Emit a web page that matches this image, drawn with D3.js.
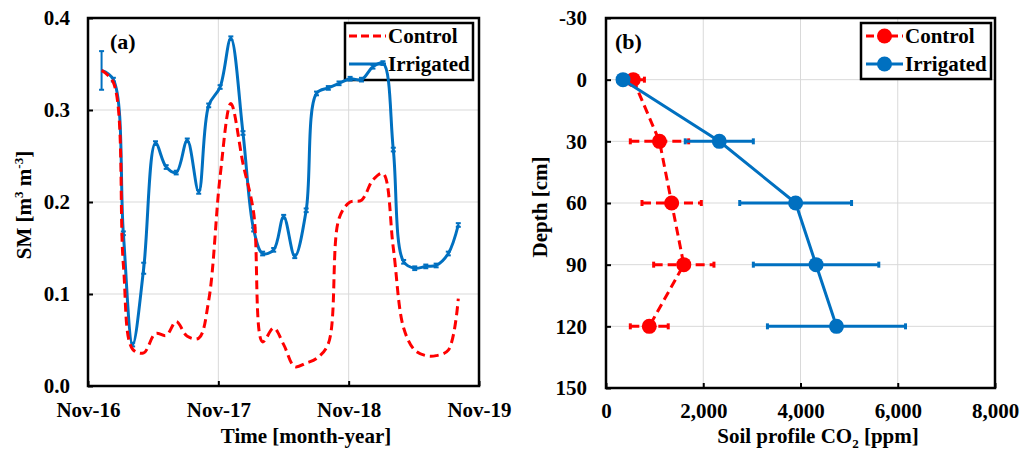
<!DOCTYPE html>
<html lang="en">
<head>
  <meta charset="UTF-8">
  <title>Soil moisture and soil profile CO2</title>
  <script src="https://cdn.jsdelivr.net/npm/d3@7.8.5/dist/d3.min.js"></script>
  <style>
    html, body { margin: 0; padding: 0; background: #fff; }
    svg { display: block; font-family: "Liberation Serif", "Times New Roman", serif; font-weight: bold; }
    svg text { font-family: "Liberation Serif", "Times New Roman", serif; font-weight: bold; }
  </style>
</head>
<body>
  <svg id="chart" width="1020" height="451"></svg>
  <script>
    // ---- panel (a): soil moisture time series ----
    const smDates = [
      "2016-12-09", "2017-01-11", "2017-02-08", "2017-03-06", "2017-04-06", "2017-05-09",
      "2017-06-08", "2017-07-06", "2017-08-06", "2017-09-07", "2017-10-05", "2017-11-06",
      "2017-12-06", "2018-01-09", "2018-02-08", "2018-03-05", "2018-04-05", "2018-05-03",
      "2018-06-03", "2018-07-05", "2018-08-03", "2018-09-05", "2018-10-05", "2018-11-05",
      "2018-12-07", "2019-01-08", "2019-02-05", "2019-03-06", "2019-04-04", "2019-05-05",
      "2019-06-05", "2019-07-04", "2019-08-07", "2019-09-04"
    ];
    const smControl = [
      0.343, 0.330, 0.132, 0.040, 0.036, 0.057, 0.055, 0.070, 0.054, 0.052, 0.093, 0.228,
      0.307, 0.242, 0.188, 0.048, 0.063, 0.045, 0.021, 0.025, 0.030, 0.046, 0.182, 0.200,
      0.202, 0.224, 0.231, 0.150, 0.063, 0.039, 0.033, 0.033, 0.039, 0.095
    ];
    const smIrrigated = [
      0.343, 0.333, 0.166, 0.045, 0.128, 0.264, 0.238, 0.232, 0.267, 0.211, 0.305, 0.325,
      0.378, 0.275, 0.170, 0.144, 0.148, 0.184, 0.141, 0.191, 0.318, 0.324, 0.329, 0.334,
      0.333, 0.347, 0.351, 0.257, 0.135, 0.128, 0.130, 0.131, 0.144, 0.175
    ];
    const smIrrigatedErr = [
      0.021, 0.002, 0.002, 0.002, 0.006, 0.002, 0.002, 0.002, 0.002, 0.002, 0.002, 0.002,
      0.002, 0.002, 0.002, 0.002, 0.002, 0.002, 0.002, 0.002, 0.002, 0.002, 0.002, 0.002,
      0.002, 0.002, 0.002, 0.002, 0.002, 0.002, 0.002, 0.002, 0.002, 0.002
    ];
    const smTicks = ["2016-11-01", "2017-11-01", "2018-11-01", "2019-11-01"];
    const smYTicks = [0, 0.1, 0.2, 0.3, 0.4];

    // ---- panel (b): soil profile CO2 ----
    const depths = [0, 30, 60, 90, 120];
    const co2Control = [560, 1100, 1350, 1600, 890];
    const co2ControlErr = [230, 600, 610, 620, 390];
    const co2Irrigated = [350, 2330, 3900, 4320, 4740];
    const co2IrrigatedErr = [0, 700, 1150, 1290, 1420];
    const depthTicks = [-30, 0, 30, 60, 90, 120, 150];
    const co2Ticks = [0, 2000, 4000, 6000, 8000];

    const RED = "#ff0000", BLUE = "#0070c0", GRID = "#d9d9d9";
    const svg = d3.select("#chart");
    const parse = d3.timeParse("%Y-%m-%d");

    // strip d3's default axis styling so the serif bold font applies
    function styleAxis(g) {
      g.attr("font-family", null).attr("font-size", null);
      g.select(".domain").remove();
      g.selectAll("line").attr("stroke", "#000").attr("stroke-width", 2);
      g.selectAll("text").style("font-size", "21px").attr("fill", "#000");
    }

    // ================= panel (a) =================
    const xA = d3.scaleTime().domain([parse("2016-11-01"), parse("2019-11-01")]).range([88, 479]);
    const yA = d3.scaleLinear().domain([0, 0.4]).range([386, 18]);
    const gA = svg.append("g");

    gA.append("g").selectAll("line").data(smYTicks.slice(1, -1)).enter().append("line")
      .attr("x1", 88).attr("x2", 479).attr("y1", d => yA(d)).attr("y2", d => yA(d))
      .attr("stroke", GRID).attr("stroke-width", 1);
    gA.append("g").selectAll("line").data(smTicks.slice(1, -1).map(parse)).enter().append("line")
      .attr("x1", d => xA(d)).attr("x2", d => xA(d)).attr("y1", 18).attr("y2", 386)
      .attr("stroke", GRID).attr("stroke-width", 1);

    // axes with inside ticks
    gA.append("g").attr("transform", "translate(0,386)")
      .call(d3.axisBottom(xA).tickValues(smTicks.map(parse)).tickSize(-5).tickPadding(15).tickFormat(d3.timeFormat("%b-%y")))
      .call(styleAxis)
      .call(g => g.selectAll("text").attr("dy", "0.75em"));
    gA.append("g").attr("transform", "translate(88,0)")
      .call(d3.axisLeft(yA).tickValues(smYTicks).tickSize(-5).tickPadding(18).tickFormat(d3.format(".1f")))
      .call(styleAxis);

    gA.append("rect").attr("x", 88).attr("y", 18).attr("width", 391).attr("height", 368)
      .attr("fill", "none").attr("stroke", "#000").attr("stroke-width", 2.5);

    // legend (a)
    const legA = gA.append("g");
    legA.append("rect").attr("x", 345).attr("y", 23).attr("width", 128).attr("height", 57)
      .attr("fill", "#fff").attr("stroke", "#000").attr("stroke-width", 2.5);
    legA.append("line").attr("x1", 349).attr("x2", 386).attr("y1", 36).attr("y2", 36)
      .attr("stroke", RED).attr("stroke-width", 3).attr("stroke-dasharray", "8,4");
    legA.append("line").attr("x1", 349).attr("x2", 386).attr("y1", 64).attr("y2", 64)
      .attr("stroke", BLUE).attr("stroke-width", 3);
    legA.append("text").attr("x", 388).attr("y", 43).attr("font-size", 21).text("Control");
    legA.append("text").attr("x", 388).attr("y", 71).attr("font-size", 21).text("Irrigated");

    const smData = smDates.map((d, i) => ({ date: parse(d), c: smControl[i], w: smIrrigated[i], we: smIrrigatedErr[i] }));
    const lineC = d3.line().x(d => xA(d.date)).y(d => yA(d.c)).curve(d3.curveCatmullRom.alpha(0.5));
    const lineW = d3.line().x(d => xA(d.date)).y(d => yA(d.w)).curve(d3.curveCatmullRom.alpha(0.5));

    gA.append("path").datum(smData).attr("d", lineW)
      .attr("fill", "none").attr("stroke", BLUE).attr("stroke-width", 3);
    const errA = gA.append("g").attr("stroke", BLUE).attr("stroke-width", 2);
    errA.selectAll(".v").data(smData).enter().append("line")
      .attr("x1", d => xA(d.date)).attr("x2", d => xA(d.date))
      .attr("y1", d => yA(d.w - d.we)).attr("y2", d => yA(d.w + d.we));
    [-1, 1].forEach(s => {
      errA.selectAll(".cap" + s).data(smData).enter().append("line")
        .attr("x1", d => xA(d.date) - 2.5).attr("x2", d => xA(d.date) + 2.5)
        .attr("y1", d => yA(d.w + s * d.we)).attr("y2", d => yA(d.w + s * d.we));
    });
    gA.append("path").datum(smData).attr("d", lineC)
      .attr("fill", "none").attr("stroke", RED).attr("stroke-width", 3).attr("stroke-dasharray", "9,5");

    gA.append("text").attr("x", 110).attr("y", 49).attr("font-size", 22).text("(a)");
    gA.append("text").attr("x", 306).attr("y", 443).attr("text-anchor", "middle").attr("font-size", 21).text("Time [month-year]");
    const smTitle = gA.append("text").attr("transform", "translate(31,205) rotate(-90)")
      .attr("text-anchor", "middle").attr("font-size", 21);
    smTitle.append("tspan").text("SM [m");
    smTitle.append("tspan").attr("font-size", 13).attr("dy", -8).text("3");
    smTitle.append("tspan").attr("dy", 8).text(" m");
    smTitle.append("tspan").attr("font-size", 13).attr("dy", -8).text("-3");
    smTitle.append("tspan").attr("dy", 8).text("]");

    // ================= panel (b) =================
    const xB = d3.scaleLinear().domain([0, 8000]).range([606, 995]);
    const yB = d3.scaleLinear().domain([-30, 150]).range([18, 388]);
    const gB = svg.append("g");

    gB.append("g").selectAll("line").data(depthTicks.slice(1, -1)).enter().append("line")
      .attr("x1", 606).attr("x2", 995).attr("y1", d => yB(d)).attr("y2", d => yB(d))
      .attr("stroke", GRID).attr("stroke-width", 1);
    gB.append("g").selectAll("line").data(co2Ticks.slice(1, -1)).enter().append("line")
      .attr("x1", d => xB(d)).attr("x2", d => xB(d)).attr("y1", 18).attr("y2", 388)
      .attr("stroke", GRID).attr("stroke-width", 1);

    gB.append("g").attr("transform", "translate(0,388)")
      .call(d3.axisBottom(xB).tickValues(co2Ticks).tickSize(-5).tickPadding(14).tickFormat(d3.format(",")))
      .call(styleAxis)
      .call(g => g.selectAll("text").attr("dy", "0.75em"));
    gB.append("g").attr("transform", "translate(606,0)")
      .call(d3.axisLeft(yB).tickValues(depthTicks).tickSize(-5).tickPadding(19).tickFormat(d => String(d)))
      .call(styleAxis);

    gB.append("rect").attr("x", 606).attr("y", 18).attr("width", 389).attr("height", 370)
      .attr("fill", "none").attr("stroke", "#000").attr("stroke-width", 2.5);

    const co2Data = depths.map((d, i) => ({
      depth: d, c: co2Control[i], ce: co2ControlErr[i], w: co2Irrigated[i], we: co2IrrigatedErr[i]
    }));

    function errorBars(key, errKey, color, dash) {
      const g = gB.append("g").attr("stroke", color);
      const rows = co2Data.filter(d => d[errKey] > 0);
      g.selectAll(".h").data(rows).enter().append("line")
        .attr("x1", d => xB(d[key] - d[errKey])).attr("x2", d => xB(d[key] + d[errKey]))
        .attr("y1", d => yB(d.depth)).attr("y2", d => yB(d.depth))
        .attr("stroke-width", 3).attr("stroke-dasharray", dash);
      [-1, 1].forEach(s => {
        g.selectAll(".c" + s).data(rows).enter().append("line")
          .attr("x1", d => xB(d[key] + s * d[errKey])).attr("x2", d => xB(d[key] + s * d[errKey]))
          .attr("y1", d => yB(d.depth) - 3).attr("y2", d => yB(d.depth) + 3)
          .attr("stroke-width", 3);
      });
    }
    errorBars("c", "ce", RED, "9,5");
    errorBars("w", "we", BLUE, null);

    gB.append("path").datum(co2Data)
      .attr("d", d3.line().x(d => xB(d.c)).y(d => yB(d.depth)))
      .attr("fill", "none").attr("stroke", RED).attr("stroke-width", 3).attr("stroke-dasharray", "9,5");
    gB.append("g").selectAll("circle").data(co2Data).enter().append("circle")
      .attr("cx", d => xB(d.c)).attr("cy", d => yB(d.depth)).attr("r", 7.5).attr("fill", RED);
    gB.append("path").datum(co2Data)
      .attr("d", d3.line().x(d => xB(d.w)).y(d => yB(d.depth)))
      .attr("fill", "none").attr("stroke", BLUE).attr("stroke-width", 3);
    gB.append("g").selectAll("circle").data(co2Data).enter().append("circle")
      .attr("cx", d => xB(d.w)).attr("cy", d => yB(d.depth)).attr("r", 7.5).attr("fill", BLUE);

    // legend (b)
    const legB = gB.append("g");
    legB.append("rect").attr("x", 861).attr("y", 23).attr("width", 130).attr("height", 56)
      .attr("fill", "#fff").attr("stroke", "#000").attr("stroke-width", 2.5);
    legB.append("line").attr("x1", 866).attr("x2", 903).attr("y1", 36).attr("y2", 36)
      .attr("stroke", RED).attr("stroke-width", 3).attr("stroke-dasharray", "8,4");
    legB.append("circle").attr("cx", 884.5).attr("cy", 36).attr("r", 7.5).attr("fill", RED);
    legB.append("line").attr("x1", 866).attr("x2", 903).attr("y1", 64).attr("y2", 64)
      .attr("stroke", BLUE).attr("stroke-width", 3);
    legB.append("circle").attr("cx", 884.5).attr("cy", 64).attr("r", 7.5).attr("fill", BLUE);
    legB.append("text").attr("x", 905).attr("y", 43).attr("font-size", 21).text("Control");
    legB.append("text").attr("x", 905).attr("y", 71).attr("font-size", 21).text("Irrigated");

    gB.append("text").attr("x", 615).attr("y", 49).attr("font-size", 22).text("(b)");
    const co2Title = gB.append("text").attr("x", 818).attr("y", 443).attr("text-anchor", "middle").attr("font-size", 21);
    co2Title.append("tspan").text("Soil profile CO");
    co2Title.append("tspan").attr("font-size", 13).attr("dy", 5).text("2");
    co2Title.append("tspan").attr("dy", -5).text(" [ppm]");
    gB.append("text").attr("transform", "translate(547,207) rotate(-90)")
      .attr("text-anchor", "middle").attr("font-size", 21).text("Depth [cm]");
  </script>
</body>
</html>
